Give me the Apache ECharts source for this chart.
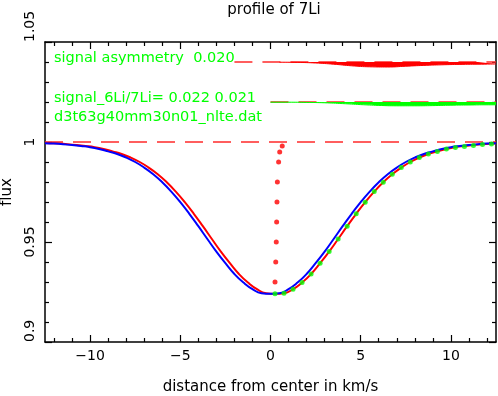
<!DOCTYPE html>
<html><head><meta charset="utf-8">
<script src="https://cdn.jsdelivr.net/npm/echarts@6/dist/echarts.min.js"></script>
<style>html,body{margin:0;padding:0;background:#fff}#c{width:498px;height:396px}</style>
</head><body><div id="c"></div>
<script>
// ---- data ----
const blueX = [-12.5,-12,-11.5,-11,-10.5,-10,-9.5,-9,-8.5,-8,-7.5,-7,-6.5,-6,-5.5,-5,-4.5,-4,-3.5,-3,-2.5,-2,-1.5,-1,-0.5,0,0.5,1,1.5,2,2.5,3,3.5,4,4.5,5,5.5,6,6.5,7,7.5,8,8.5,9,9.5,10,10.5,11,11.5,12,12.5];
const blueFlux = [0.9994,0.9992,0.9989,0.9985,0.9980,0.9974,0.9965,0.9953,0.9940,0.9922,0.9900,0.9872,0.9839,0.9799,0.9752,0.9699,0.9641,0.9579,0.9515,0.9452,0.9394,0.9340,0.9297,0.9264,0.9244,0.9241,0.9244,0.9264,0.9297,0.9340,0.9394,0.9452,0.9515,0.9579,0.9641,0.9699,0.9752,0.9799,0.9839,0.9872,0.9900,0.9922,0.9940,0.9953,0.9965,0.9974,0.9980,0.9985,0.9989,0.9992,0.9994];
const redX = [-12.5,-12.25,-11.75,-11.25,-10.75,-10.25,-9.75,-9.25,-8.75,-8.25,-7.75,-7.25,-6.75,-6.25,-5.75,-5.25,-4.75,-4.25,-3.75,-3.25,-2.75,-2.25,-1.75,-1.25,-0.75,-0.25,0.25,0.75,1.25,1.75,2.25,2.75,3.25,3.75,4.25,4.75,5.25,5.75,6.25,6.75,7.25,7.75,8.25,8.75,9.25,9.75,10.25,10.75,11.25,11.75,12.25,12.5];
const redFlux = [0.9995,0.9994,0.9992,0.9989,0.9985,0.9980,0.9974,0.9965,0.9953,0.9940,0.9922,0.9900,0.9872,0.9839,0.9799,0.9752,0.9699,0.9641,0.9579,0.9515,0.9452,0.9394,0.9340,0.9297,0.9264,0.9244,0.9241,0.9244,0.9264,0.9297,0.9340,0.9394,0.9452,0.9515,0.9579,0.9641,0.9699,0.9752,0.9799,0.9839,0.9872,0.9900,0.9922,0.9940,0.9953,0.9965,0.9974,0.9980,0.9985,0.9989,0.9992,0.9993];
const greenX = [0.25,0.75,1.25,1.75,2.25,2.75,3.25,3.75,4.25,4.75,5.25,5.75,6.25,6.75,7.25,7.75,8.25,8.75,9.25,9.75,10.25,10.75,11.25,11.75,12.25];
const greenFlux = [0.9241,0.9244,0.9264,0.9297,0.9340,0.9394,0.9452,0.9515,0.9579,0.9641,0.9699,0.9752,0.9799,0.9839,0.9872,0.9900,0.9922,0.9940,0.9953,0.9965,0.9973,0.9978,0.9983,0.9987,0.9990];
const bisectorX = [0.25,0.29,0.32,0.34,0.36,0.38,0.45,0.51,0.65];
const bisectorFlux = [0.93,0.94,0.95,0.96,0.97,0.98,0.99,0.995,0.998];
const asymLevel = 1.04;
const asymX = [0.5,1.5,2.5,3.5,4.5,5.5,6.5,7.5,8.5,9.5,10.5,11.5,12.5];
const asymFlux = [1.0399,1.0398,1.0395,1.0389,1.0381,1.0376,1.0375,1.0379,1.0383,1.0386,1.0388,1.0389,1.0390];
const ratioLevel = 1.02;
const ratioX = [0,1,2,3,4,5,6,7,8,9,10,11,12,12.5];
const ratioFlux = [1.0199,1.0199,1.0198,1.0196,1.0192,1.0187,1.0183,1.0181,1.0181,1.0182,1.0184,1.0185,1.0186,1.0186];
const continuumLine = [[-12.5,1],[12.5,1]];
const asymBaseLine = [[-2,1.04],[12.5,1.04]];
const ratioBaseLine = [[0,1.02],[12.5,1.02]];
const xMajorTicks = [-10,-5,0,5,10];
const xMinorTicks = [-12,-11,-9,-8,-7,-6,-4,-3,-2,-1,1,2,3,4,6,7,8,9,11,12];
const titleText = 'profile of 7Li';
const xName = 'distance from center in km/s';
const yName = 'flux';
const notes = ['signal asymmetry  0.020','signal_6Li/7Li= 0.022 0.021','d3t63g40mm30n01_nlte.dat'];

// ---- chart ----
const zip = (xs, ys) => xs.map((x, i) => [x, ys[i]]);
const FONT = 'DejaVu Sans';
const black = '#000';
const chart = echarts.init(document.getElementById('c'), null, {renderer: 'canvas'});

function xAxisDef(pos, major, withLabel) {
  return {
    type: 'value', min: -12.5, max: 12.5, position: pos,
    axisLine: {show: major, onZero: false, lineStyle: {color: black, width: 1.5}},
    axisTick: {show: true, inside: true, length: major ? 7 : 4, customValues: major ? xMajorTicks : xMinorTicks,
      lineStyle: {color: black, width: 1.2}},
    axisLabel: withLabel ? {show: true, customValues: xMajorTicks, margin: 7, color: black, fontFamily: FONT, fontSize: 14,
      formatter: v => v < 0 ? '\u2212' + Math.abs(v) : String(v)} : {show: false},
    splitLine: {show: false},
    name: withLabel ? xName : '', nameLocation: 'middle', nameGap: 38,
    nameTextStyle: {color: black, fontFamily: FONT, fontSize: 15}
  };
}
function yAxisDef(pos, withLabel) {
  return {
    type: 'value', min: 0.9, max: 1.05, interval: 0.05, position: pos,
    axisLine: {show: true, onZero: false, lineStyle: {color: black, width: 1.5}},
    axisTick: {show: true, inside: true, length: 7, lineStyle: {color: black, width: 1.2}},
    minorTick: {show: true, splitNumber: 5, length: 4, lineStyle: {color: black, width: 1.2}},
    axisLabel: withLabel ? {show: true, rotate: 90, margin: 8, color: black, fontFamily: FONT, fontSize: 14,
      alignMinLabel: 'left', alignMaxLabel: 'left'} : {show: false},
    splitLine: {show: false}, minorSplitLine: {show: false},
    name: withLabel ? yName : '', nameLocation: 'middle', nameGap: 26, nameRotate: 90,
    nameTextStyle: {color: black, fontFamily: FONT, fontSize: 15}
  };
}

const option = {
  animation: false,
  backgroundColor: '#fff',
  grid: {left: 45, right: 2, top: 42, bottom: 54, containLabel: false, outerBoundsMode: 'none'},
  xAxis: [xAxisDef('bottom', true, true), xAxisDef('bottom', false, false), xAxisDef('top', true, false), xAxisDef('top', false, false)],
  yAxis: [yAxisDef('left', true), yAxisDef('right', false)],
  graphic: [
    {type: 'text', x: 274, y: 10, style: {text: titleText, font: '15px "DejaVu Sans"', fill: black, align: 'center', verticalAlign: 'middle'}},
    {type: 'text', x: 54, y: 58, z: 10, style: {text: notes[0], font: '14.5px "DejaVu Sans"', fill: '#00ff00', align: 'left', verticalAlign: 'middle'}},
    {type: 'text', x: 54, y: 98, z: 10, style: {text: notes[1], font: '14.5px "DejaVu Sans"', fill: '#00ff00', align: 'left', verticalAlign: 'middle'}},
    {type: 'text', x: 54, y: 117, z: 10, style: {text: notes[2], font: '14.5px "DejaVu Sans"', fill: '#00ff00', align: 'left', verticalAlign: 'middle'}}
  ],
  series: [
    {type: 'line', data: continuumLine, showSymbol: false, silent: true, lineStyle: {color: '#ff2a2a', width: 1.5, type: [18, 10]}, z: 1},
    {type: 'line', data: asymBaseLine, showSymbol: false, silent: true, lineStyle: {color: '#ff2a2a', width: 1.5, type: [18, 10]}, z: 1},
    {type: 'line', data: ratioBaseLine, showSymbol: false, silent: true, lineStyle: {color: '#ff2a2a', width: 1.5, type: [18, 10]}, z: 1},
    {type: 'line', data: zip(redX, redFlux), showSymbol: false, smooth: true, lineStyle: {color: '#ff0000', width: 2}, z: 2},
    {type: 'line', data: zip(blueX, blueFlux), showSymbol: false, smooth: true, lineStyle: {color: '#0000ff', width: 2}, z: 3},
    {type: 'scatter', data: zip(greenX, greenFlux), symbol: 'circle', symbolSize: 5, itemStyle: {color: '#00ff00'}, z: 4},
    {type: 'scatter', data: zip(bisectorX, bisectorFlux), symbol: 'circle', symbolSize: 5, itemStyle: {color: '#ff0000'}, z: 4},
    {type: 'line', data: zip(asymX, asymFlux), showSymbol: false, smooth: true, lineStyle: {color: '#ff0000', width: 1}, areaStyle: {origin: asymLevel, color: '#ff0000', opacity: 1}, z: 5},
    {type: 'line', data: zip(ratioX, ratioFlux), showSymbol: false, smooth: true, lineStyle: {color: '#00ff00', width: 1}, areaStyle: {origin: ratioLevel, color: '#00ff00', opacity: 1}, z: 5}
  ]
};
chart.setOption(option);
</script></body></html>
